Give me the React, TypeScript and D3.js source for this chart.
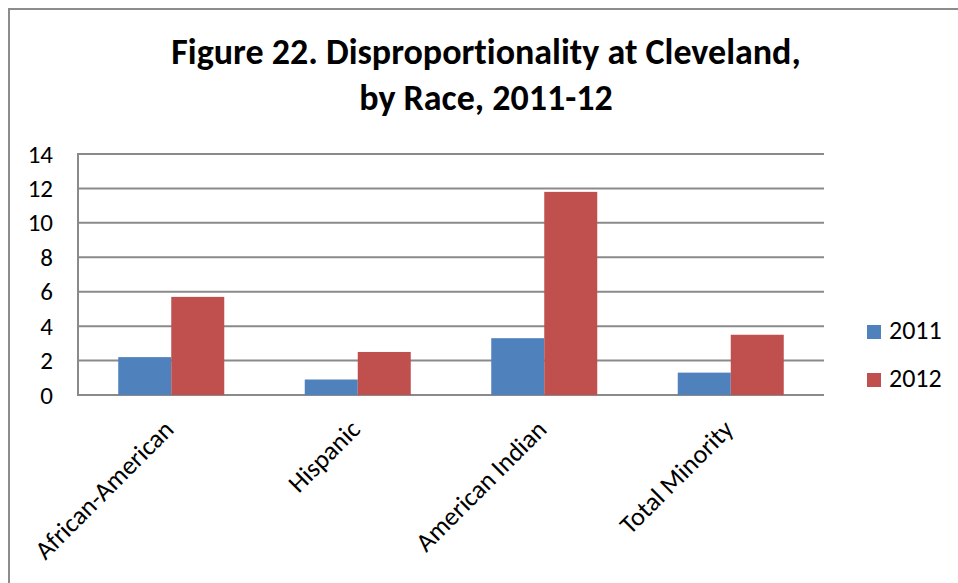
import React from "react";
import * as d3 from "d3";

// Disproportionality index by race, two school years
const categories: string[] = ["African-American", "Hispanic", "American Indian", "Total Minority"];
const seriesNames: string[] = ["2011", "2012"];
const values2011: number[] = [2.2, 0.9, 3.3, 1.3];
const values2012: number[] = [5.7, 2.5, 11.8, 3.5];
const yTicks: number[] = [0, 2, 4, 6, 8, 10, 12, 14];
const titleLines: string[] = ["Figure 22. Disproportionality at Cleveland,", "by Race, 2011-12"];

const colors: string[] = ["#4F81BD", "#C0504D"];
const FONT = "Carlito, Lato, 'Open Sans', sans-serif";

const W = 958;
const H = 583;
const plot = { left: 78, right: 824, top: 154, bottom: 395 };

const textStyle: React.CSSProperties = { fontVariantLigatures: "none" };

export default function App() {
  const series = [values2011, values2012];

  const x0 = d3
    .scaleBand<string>()
    .domain(categories)
    .range([plot.left, plot.right])
    .paddingInner(0.4316)
    .paddingOuter(0.2158);

  const x1 = d3.scaleBand<string>().domain(seriesNames).range([0, x0.bandwidth()]).padding(0);

  const y = d3.scaleLinear().domain([0, 14]).range([plot.bottom, plot.top]);

  const gridColor = "#8A8A8A";

  return (
    <svg
      width={W}
      height={H}
      viewBox={`0 0 ${W} ${H}`}
      style={{ position: "absolute", left: 0, top: 0, background: "#fff" }}
    >
      <rect x={0} y={0} width={W} height={H} fill="#fff" />
      {/* chart frame */}
      <rect x={9} y={9} width={1200} height={1200} fill="none" stroke="#8C8C8C" strokeWidth={2} />

      {/* title */}
      {titleLines.map((t, i) => (
        <text
          key={t}
          x={486}
          y={64 + i * 46}
          textAnchor="middle"
          fontFamily={FONT}
          fontWeight={700}
          fontSize={36}
          fill="#000"
          style={textStyle}
        >
          {t}
        </text>
      ))}

      {/* gridlines */}
      {yTicks.map((t) => (
        <line
          key={"g" + t}
          x1={plot.left}
          x2={plot.right}
          y1={y(t)}
          y2={y(t)}
          stroke={gridColor}
          strokeWidth={2}
        />
      ))}
      {/* value axis line */}
      <line x1={plot.left} x2={plot.left} y1={plot.top - 1} y2={plot.bottom + 1} stroke={gridColor} strokeWidth={2} />

      {/* y tick labels */}
      {yTicks.map((t) => (
        <text
          key={"t" + t}
          x={53}
          y={y(t)}
          dy="0.34em"
          textAnchor="end"
          fontFamily={FONT}
          fontSize={25}
          fill="#000"
          style={textStyle}
        >
          {t}
        </text>
      ))}

      {/* bars */}
      {categories.map((c, ci) => (
        <g key={c} transform={`translate(${x0(c)},0)`}>
          {series.map((vals, si) => (
            <rect
              key={seriesNames[si]}
              x={x1(seriesNames[si])}
              y={y(vals[ci])}
              width={x1.bandwidth()}
              height={plot.bottom - y(vals[ci])}
              fill={colors[si]}
            />
          ))}
        </g>
      ))}

      {/* category labels */}
      {categories.map((c) => {
        const cx = (x0(c) as number) + x0.bandwidth() / 2 + 4;
        const cy = plot.bottom + 36;
        return (
          <text
            key={"c" + c}
            transform={`translate(${cx},${cy}) rotate(-45)`}
            textAnchor="end"
            fontFamily={FONT}
            fontSize={26}
            fill="#000"
            style={textStyle}
          >
            {c}
          </text>
        );
      })}

      {/* legend */}
      {seriesNames.map((s, i) => (
        <g key={"l" + s} transform={`translate(867,${325 + i * 48})`}>
          <rect x={0} y={0} width={14} height={14} fill={colors[i]} />
          <text x={22} y={14} fontFamily={FONT} fontSize={26} fill="#000" style={textStyle}>
            {s}
          </text>
        </g>
      ))}
    </svg>
  );
}
